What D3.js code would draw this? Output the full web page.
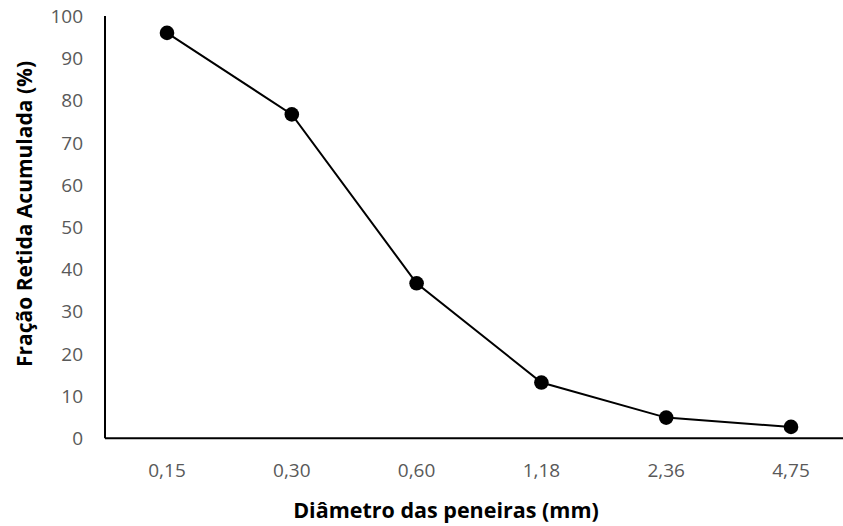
<!DOCTYPE html>
<html><head><meta charset="utf-8">
<script src="https://cdn.jsdelivr.net/npm/d3@7"></script>
<style>body{margin:0;background:#fff}svg{display:block}text{font-family:"Open Sans",Lato,sans-serif}</style>
</head><body><svg id="c" width="843" height="526"></svg>
<script>
const categories = ["0,15","0,30","0,60","1,18","2,36","4,75"];
const values = [96.0, 76.7, 36.7, 13.2, 4.9, 2.7];
const yTicks = [0,10,20,30,40,50,60,70,80,90,100];

const svg = d3.select("#c");
const x = d3.scalePoint().domain(categories).range([167, 791]);
const y = d3.scaleLinear().domain([0,100]).range([438.3, 16]);

svg.append("g").selectAll("text").data(yTicks).join("text")
  .attr("x", 83).attr("y", d => y(d)).attr("dy", "0.36em")
  .attr("text-anchor", "end").attr("fill", "#595959").attr("font-size", 19)
  .text(d => d);

svg.append("g").selectAll("text").data(categories).join("text")
  .attr("x", d => x(d)).attr("y", 470).attr("dy", "0.36em")
  .attr("text-anchor", "middle").attr("fill", "#595959").attr("font-size", 19)
  .text(d => d);

svg.append("line").attr("x1", 105).attr("x2", 853).attr("y1", y(0)).attr("y2", y(0))
  .attr("stroke", "#000").attr("stroke-width", 2);
svg.append("line").attr("x1", 105).attr("x2", 105).attr("y1", y(100)).attr("y2", y(0))
  .attr("stroke", "#000").attr("stroke-width", 2);

const line = d3.line().x((d,i) => x(categories[i])).y(d => y(d));
svg.append("path").datum(values).attr("d", line)
  .attr("fill", "none").attr("stroke", "#000").attr("stroke-width", 2);

svg.append("g").selectAll("circle").data(values).join("circle")
  .attr("cx", (d,i) => x(categories[i])).attr("cy", d => y(d)).attr("r", 7.3)
  .attr("fill", "#000");

svg.append("text").attr("x", 446).attr("y", 510).attr("dy", "0.36em")
  .attr("text-anchor", "middle").attr("font-weight", "bold").attr("font-size", 21.5)
  .attr("fill", "#000").text("Diâmetro das peneiras (mm)");
svg.append("text").attr("transform", "translate(24,214) rotate(-90)").attr("dy", "0.36em")
  .attr("text-anchor", "middle").attr("font-weight", "bold").attr("font-size", 21)
  .attr("fill", "#000").text("Fração Retida Acumulada (%)");
</script></body></html>
